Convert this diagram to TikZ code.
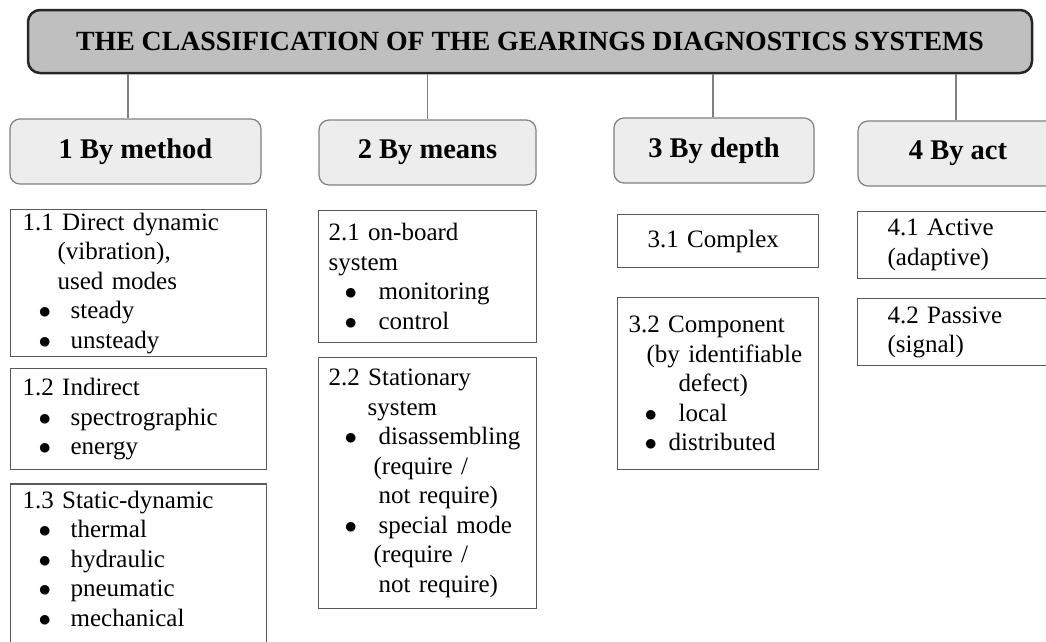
\documentclass[tikz,border=0pt]{standalone}
\usepackage{fontspec}
\setmainfont{Liberation Serif}
\usetikzlibrary{positioning}
\newcommand{\bul}[1][32pt]{\hspace*{16pt}\makebox[#1][l]{$\bullet$}}

\begin{document}
\begin{tikzpicture}[x=1pt, y=-1pt, every node/.style={inner sep=1pt},
    head/.style={draw=black!85, line width=2.5pt, fill=black!25, rounded corners=12pt,
        minimum width=1004pt, minimum height=63pt, font=\bfseries\fontsize{27.8}{33}\selectfont},
    group/.style={draw=black!50, line width=1.2pt, fill=black!7, rounded corners=10pt,
        minimum height=65pt, font=\bfseries\fontsize{28.5}{34}\selectfont},
    leaf/.style={draw=black!65, line width=1.2pt, fill=white, align=left, inner ysep=3pt,
        font=\fontsize{25}{29.5}\selectfont},
    link/.style={draw=black!50, line width=1.5pt}]

            \useasboundingbox (0,0) rectangle (1046,641);
            \clip (0,0) rectangle (1046,641);

            \node[head] (T) at (530,41.5) {THE CLASSIFICATION OF THE GEARINGS DIAGNOSTICS SYSTEMS};

            \node[group, minimum width=251pt] (G1) at (135.5,151.5) {1 By method};
            \node[group, minimum width=217pt] (G2) at (427.5,152.5) {2 By means};
            \node[group, minimum width=200pt] (G3) at (714,150.5) {3 By depth};
            \node[group, minimum width=200pt] (G4) at (958,153.5) {4 By act};

            \foreach \g/\dx in {G1/-7.5, G2/0, G3/-1, G4/-2}
                \draw[link] ([xshift=\dx pt]\g.north) coordinate (top) -- (top |- T.south);

            % 1 by method
            \node[leaf, anchor=north west, text width=232pt, inner xsep=12pt, minimum height=147pt] (M1) at (10,209)
                {1.1 Direct dynamic\\ \hspace*{35pt}(vibration),\\ \hspace*{35pt}used modes\\ \bul steady\\ \bul unsteady};
            \node[leaf, below=11pt of M1, text width=232pt, inner xsep=12pt, minimum height=101pt] (M2)
                {1.2 Indirect\\ \bul spectrographic\\ \bul energy};
            \node[leaf, below=13pt of M2, text width=232pt, inner xsep=12pt, inner ysep=7pt] (M3)
                {1.3 Static-dynamic\\ \bul thermal\\ \bul hydraulic\\ \bul pneumatic\\ \bul mechanical\\ ~\\ ~};

            % 2 by means
            \node[leaf, anchor=north west, text width=198pt, inner xsep=10pt, minimum height=132pt] (S1) at (318,210)
                {2.1 on-board\\ system\\ \bul[34pt]monitoring\\ \bul[34pt]control};
            \node[leaf, below=14pt of S1, text width=198pt, inner xsep=10pt, minimum height=251pt] (S2)
                {2.2 Stationary\\ \hspace*{39pt}system\\ \bul[34pt]disassembling\\ \hspace*{45pt}(require /\\
                 \hspace*{50pt}not require)\\ \bul[34pt]special mode\\ \hspace*{45pt}(require /\\ \hspace*{50pt}not require)};

            % 3 by depth
            \node[leaf, anchor=north west, text width=141pt, inner xsep=30pt, minimum height=53pt] (D1) at (617,214)
                {3.1 Complex};
            \node[leaf, below=29pt of D1, text width=179pt, inner xsep=11pt, minimum height=172pt] (D2)
                {3.2 Component\\ \hspace*{18pt}(by identifiable\\ \hspace*{50pt}defect)\\ \bul[34pt]local\\ \bul[24pt]distributed};

            % 4 by act
            \node[leaf, anchor=north west, text width=140pt, inner xsep=30pt, minimum height=67pt] (A1) at (857,211)
                {4.1 Active\\ (adaptive)};
            \node[leaf, below=19pt of A1, text width=140pt, inner xsep=30pt, minimum height=67pt] (A2)
                {4.2 Passive\\ (signal)};
        \end{tikzpicture}
\end{document}
